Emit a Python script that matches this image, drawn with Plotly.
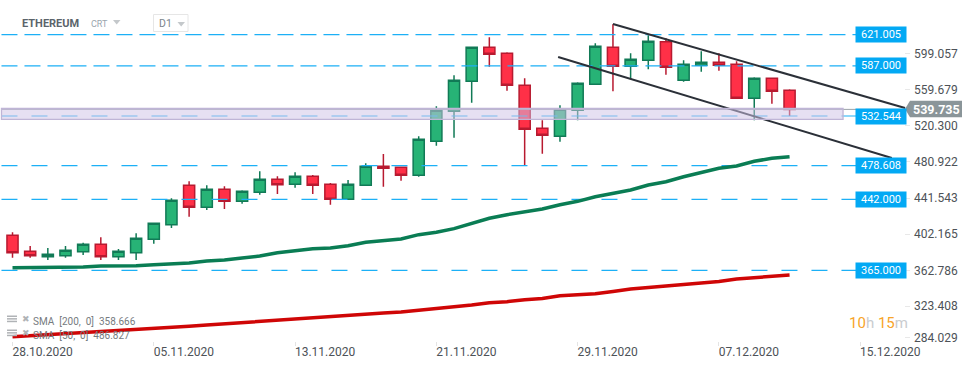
import pandas as pd
import plotly.graph_objects as go

FIRST_DAY = "2020-10-28"
opens = [403.0,385.6,379.8,380.9,385.2,393.2,379.8,384.1,398.7,414.5,457.3,433.4,453.0,439.9,449.7,463.8,458.4,467.1,458.4,442.1,457.3,477.9,476.9,468.2,505.1,537.6,570.2,607.1,600.6,565.9,519.2,510.5,538.7,567.0,607.1,586.5,593.0,613.2,571.3,587.6,590.9,588.7,551.8,573.5,560.4]
closes = [384.1,380.9,382.4,386.7,393.2,379.8,385.6,399.8,416.0,441.0,433.4,453.0,439.9,450.8,463.8,458.0,467.1,457.3,442.1,458.4,477.9,475.8,468.2,507.2,538.7,571.3,607.1,599.5,565.9,518.1,511.6,539.8,568.1,608.2,586.5,594.1,613.7,585.4,588.7,590.9,587.6,551.8,573.5,559.4,539.7]
highs = [406.3,391.4,389.2,391.4,395.0,400.8,388.1,405.2,416.9,443.2,461.6,457.3,456.2,451.9,472.5,467.1,471.4,468.5,459.8,463.1,481.2,491.3,476.9,510.5,543.1,576.7,607.1,618.0,601.7,573.5,527.9,544.2,569.1,611.5,632.1,600.6,620.2,616.9,593.0,602.8,600.6,591.9,574.6,573.5,561.5]
lows = [378.7,378.7,376.2,378.7,381.6,376.2,376.2,376.2,393.9,410.9,423.2,430.5,431.6,437.3,447.1,447.9,454.7,447.9,436.2,442.1,457.3,455.8,462.3,466.6,500.3,509.0,547.0,586.1,560.0,479.3,491.6,504.6,527.9,567.0,559.4,572.4,583.3,577.4,569.8,580.6,581.7,551.8,527.9,545.9,532.5]
sma_50 = [367.8,367.8,368.3,368.6,368.6,369.7,369.9,369.9,371.1,371.8,372.9,375.1,376.2,378.4,380.5,384.1,386.3,388.5,389.2,391.7,395.4,397.2,399.0,403.7,406.3,410.2,416.0,421.5,425.4,428.6,431.6,436.2,439.9,444.9,449.0,452.2,457.6,461.2,466.6,471.4,475.8,478.3,483.4,486.6,488.4]
sma_200 = [292.9,294.0,295.1,296.2,297.3,298.3,299.1,300.5,302.0,303.1,304.3,305.6,306.9,308.5,309.9,311.4,312.9,314.1,315.3,316.5,317.6,318.6,319.7,321.4,323.3,325.5,327.3,329.8,330.9,333.1,334.4,337.4,338.4,339.6,342.0,344.7,346.3,348.3,349.6,351.2,352.9,355.6,356.9,358.8,359.9]

level_values = [621.005, 587.0, 532.544, 478.608, 442.0, 365.0]
level_labels = ["621.005", "587.000", "532.544", "478.608", "442.000", "365.000"]
level_dashes = ["16px,7px", "16px,7px", "16px,14px", "16px,14px", "16px,14px", "16px,14px"]
level_start = "2020-10-27 09:00"
level_end = "2020-12-14 19:00"

zone_low, zone_high = 528.8, 540.7
zone_end = "2020-12-14 00:40"
last_price = 539.735
price_line_end = "2020-12-17 13:00"

upper_channel_x = ["2020-12-01 00:00", "2020-12-17 13:00"]
upper_channel_y = [632.4, 541.2]
lower_channel_x = ["2020-11-27 21:30", "2020-12-16 19:00"]
lower_channel_y = [596.6, 486.9]

y_tick_prices = [599.9, 560.8, 522.0, 482.9, 443.5, 404.4, 365.0, 326.2, 292.0]
y_tick_labels = ["599.057", "559.679", "520.300", "480.922", "441.543", "402.165", "362.786", "323.408", "284.029"]
x_tick_dates = ["2020-10-28", "2020-11-05", "2020-11-13", "2020-11-21", "2020-11-29", "2020-12-07", "2020-12-15"]
x_tick_labels = ["28.10.2020", "05.11.2020", "13.11.2020", "21.11.2020", "29.11.2020", "07.12.2020", "15.12.2020"]

days = pd.date_range(FIRST_DAY, periods=len(opens), freq="D")

FONT = "Roboto"
PLOT_W, PLOT_H = 910, 346
def px(v):
    return v / PLOT_W
def py(v):
    return 1 - v / PLOT_H

fig = go.Figure()
fig.add_trace(go.Candlestick(
    x=days, open=opens, high=highs, low=lows, close=closes,
    whiskerwidth=0,
    increasing=dict(fillcolor="#27b376", line=dict(color="#117a56", width=1.5)),
    decreasing=dict(fillcolor="#ff3047", line=dict(color="#b81a30", width=1.5)),
    hoverinfo="skip",
))
for value, dash in zip(level_values, level_dashes):
    fig.add_trace(go.Scatter(x=[level_start, level_end], y=[value, value], mode="lines",
                             line=dict(color="#1cb0f6", width=1.2, dash=dash), hoverinfo="skip"))
fig.add_trace(go.Scatter(x=[level_start, price_line_end], y=[last_price, last_price], mode="lines",
                         line=dict(color="#9aa2a8", width=1), hoverinfo="skip"))
fig.add_trace(go.Scatter(x=days, y=sma_50, mode="lines", line=dict(color="#0a7d54", width=3.5), hoverinfo="skip"))
fig.add_trace(go.Scatter(x=days, y=sma_200, mode="lines", line=dict(color="#cf0606", width=3.5), hoverinfo="skip"))
fig.add_trace(go.Scatter(x=upper_channel_x, y=upper_channel_y, mode="lines", line=dict(color="#2b3038", width=2), hoverinfo="skip"))
fig.add_trace(go.Scatter(x=lower_channel_x, y=lower_channel_y, mode="lines", line=dict(color="#2b3038", width=2), hoverinfo="skip"))

shapes = [
    dict(type="rect", xref="x", yref="y", x0=level_start, x1=zone_end, y0=zone_low, y1=zone_high,
         fillcolor="rgba(207,196,230,0.52)", line=dict(color="#bfb5d6", width=1.3), layer="above"),
    dict(type="path", xref="paper", yref="paper",
         path=f"M {px(905)} {py(109)} L {px(910)} {py(100.7)} L {px(962)} {py(100.7)} L {px(962)} {py(117.3)} L {px(910)} {py(117.3)} Z",
         fillcolor="#8a9599", line=dict(width=0), layer="above"),
    dict(type="rect", xref="paper", yref="paper", x0=px(153.5), x1=px(188), y0=py(14.5), y1=py(31.5),
         line=dict(color="#e6e6e6", width=1), fillcolor="rgba(255,255,255,0)", layer="above"),
    dict(type="path", xref="paper", yref="paper",
         path=f"M {px(113)} {py(20)} L {px(120.5)} {py(20)} L {px(116.7)} {py(24.5)} Z",
         fillcolor="#c4c8cb", line=dict(width=0), layer="above"),
    dict(type="path", xref="paper", yref="paper",
         path=f"M {px(177.5)} {py(22)} L {px(185)} {py(22)} L {px(181.2)} {py(26.5)} Z",
         fillcolor="#c4c8cb", line=dict(width=0), layer="above"),
]
for top in (315.5, 329.5):
    for off in (0, 2.6, 5.2):
        shapes.append(dict(type="rect", xref="paper", yref="paper",
                           x0=px(7), x1=px(17), y0=py(top + off), y1=py(top + off + 1.5),
                           fillcolor="#b0b3b6", line=dict(width=0), layer="above"))

annotations = []
for value, label in zip(level_values, level_labels):
    annotations.append(dict(xref="paper", yref="y", x=px(881), y=value,
                            text=f'<span style="color:#ffffff">{label}</span>', showarrow=False,
                            xanchor="center", yanchor="middle",
                            width=50, height=15, bgcolor="#03a9f4", borderpad=0, align="center",
                            font=dict(family=FONT, size=11, color="#ffffff")))
annotations.append(dict(xref="paper", yref="paper", x=px(936.5), y=py(109),
                        text='<span style="color:#ffffff"><b>539.735</b></span>', showarrow=False,
                        xanchor="center", yanchor="middle",
                        font=dict(family=FONT, size=12.5, color="#ffffff")))
def note(x, y, text, size, color):
    annotations.append(dict(xref="paper", yref="paper", x=px(x), y=py(y), text=text, showarrow=False,
                            xanchor="left", yanchor="middle",
                            font=dict(family=FONT, size=size, color=color)))
note(19.5, 23, "<b>ETHEREUM</b>", 11, "#5b646b")
note(89, 24, "CRT", 9, "#9aa5ad")
note(156.5, 23.5, "D1", 10.5, "#7c858b")
note(31, 321.5, "SMA  [200,  0]  358.666", 10, "#767b80")
note(31, 335.5, "SMA  [50,  0]  486.827", 10, "#767b80")
annotations.append(dict(xref="paper", yref="paper", x=px(20), y=py(318.5), text="✖", showarrow=False,
                        xanchor="left", yanchor="middle", font=dict(family="DejaVu Sans", size=9, color="#b0b3b6")))
annotations.append(dict(xref="paper", yref="paper", x=px(20), y=py(332.5), text="✖", showarrow=False,
                        xanchor="left", yanchor="middle", font=dict(family="DejaVu Sans", size=9, color="#b0b3b6")))
note(847, 323, '<span style="color:#f7a428">10</span><span style="color:#c9cccf">h</span> '
               '<span style="color:#f7a428">15</span><span style="color:#c9cccf">m</span>', 15, "#f7a428")

x_label_shift = pd.Timedelta(days=1.7)
fig.update_layout(
    width=974, height=368, autosize=False,
    margin=dict(l=0, r=974 - PLOT_W, t=0, b=368 - PLOT_H, pad=0),
    paper_bgcolor="#ffffff", plot_bgcolor="#ffffff",
    showlegend=False, hovermode=False, boxgap=0.3, boxgroupgap=0.1,
    font=dict(family=FONT, size=12, color="#4d5257"),
    shapes=shapes, annotations=annotations,
    xaxis=dict(
        type="date", range=["2020-10-27 07:00", "2020-12-17 19:40"],
        rangeslider=dict(visible=False), showgrid=False, zeroline=False, showline=False,
        tickmode="array",
        tickvals=[pd.Timestamp(d) + x_label_shift for d in x_tick_dates],
        ticktext=x_tick_labels, ticks="", ticklabelstandoff=-3,
        tickfont=dict(family=FONT, size=12, color="#4d5257"),
        minor=dict(tickmode="array", tickvals=x_tick_dates, ticks="inside", ticklen=4,
                   tickcolor="#e4e4e4", tickwidth=1, showgrid=False),
    ),
    yaxis=dict(
        side="right", range=[282.8, 658.5], showgrid=False, zeroline=False, showline=False,
        tickmode="array", tickvals=y_tick_prices, ticktext=y_tick_labels,
        ticks="inside", ticklen=5, tickcolor="#e8e8e8", tickwidth=1, ticklabelstandoff=3,
        tickfont=dict(family=FONT, size=12, color="#4d5257"),
    ),
)

fig.write_html("out.html", config=dict(displayModeBar=False),
               post_script="document.body.style.margin='0';")
